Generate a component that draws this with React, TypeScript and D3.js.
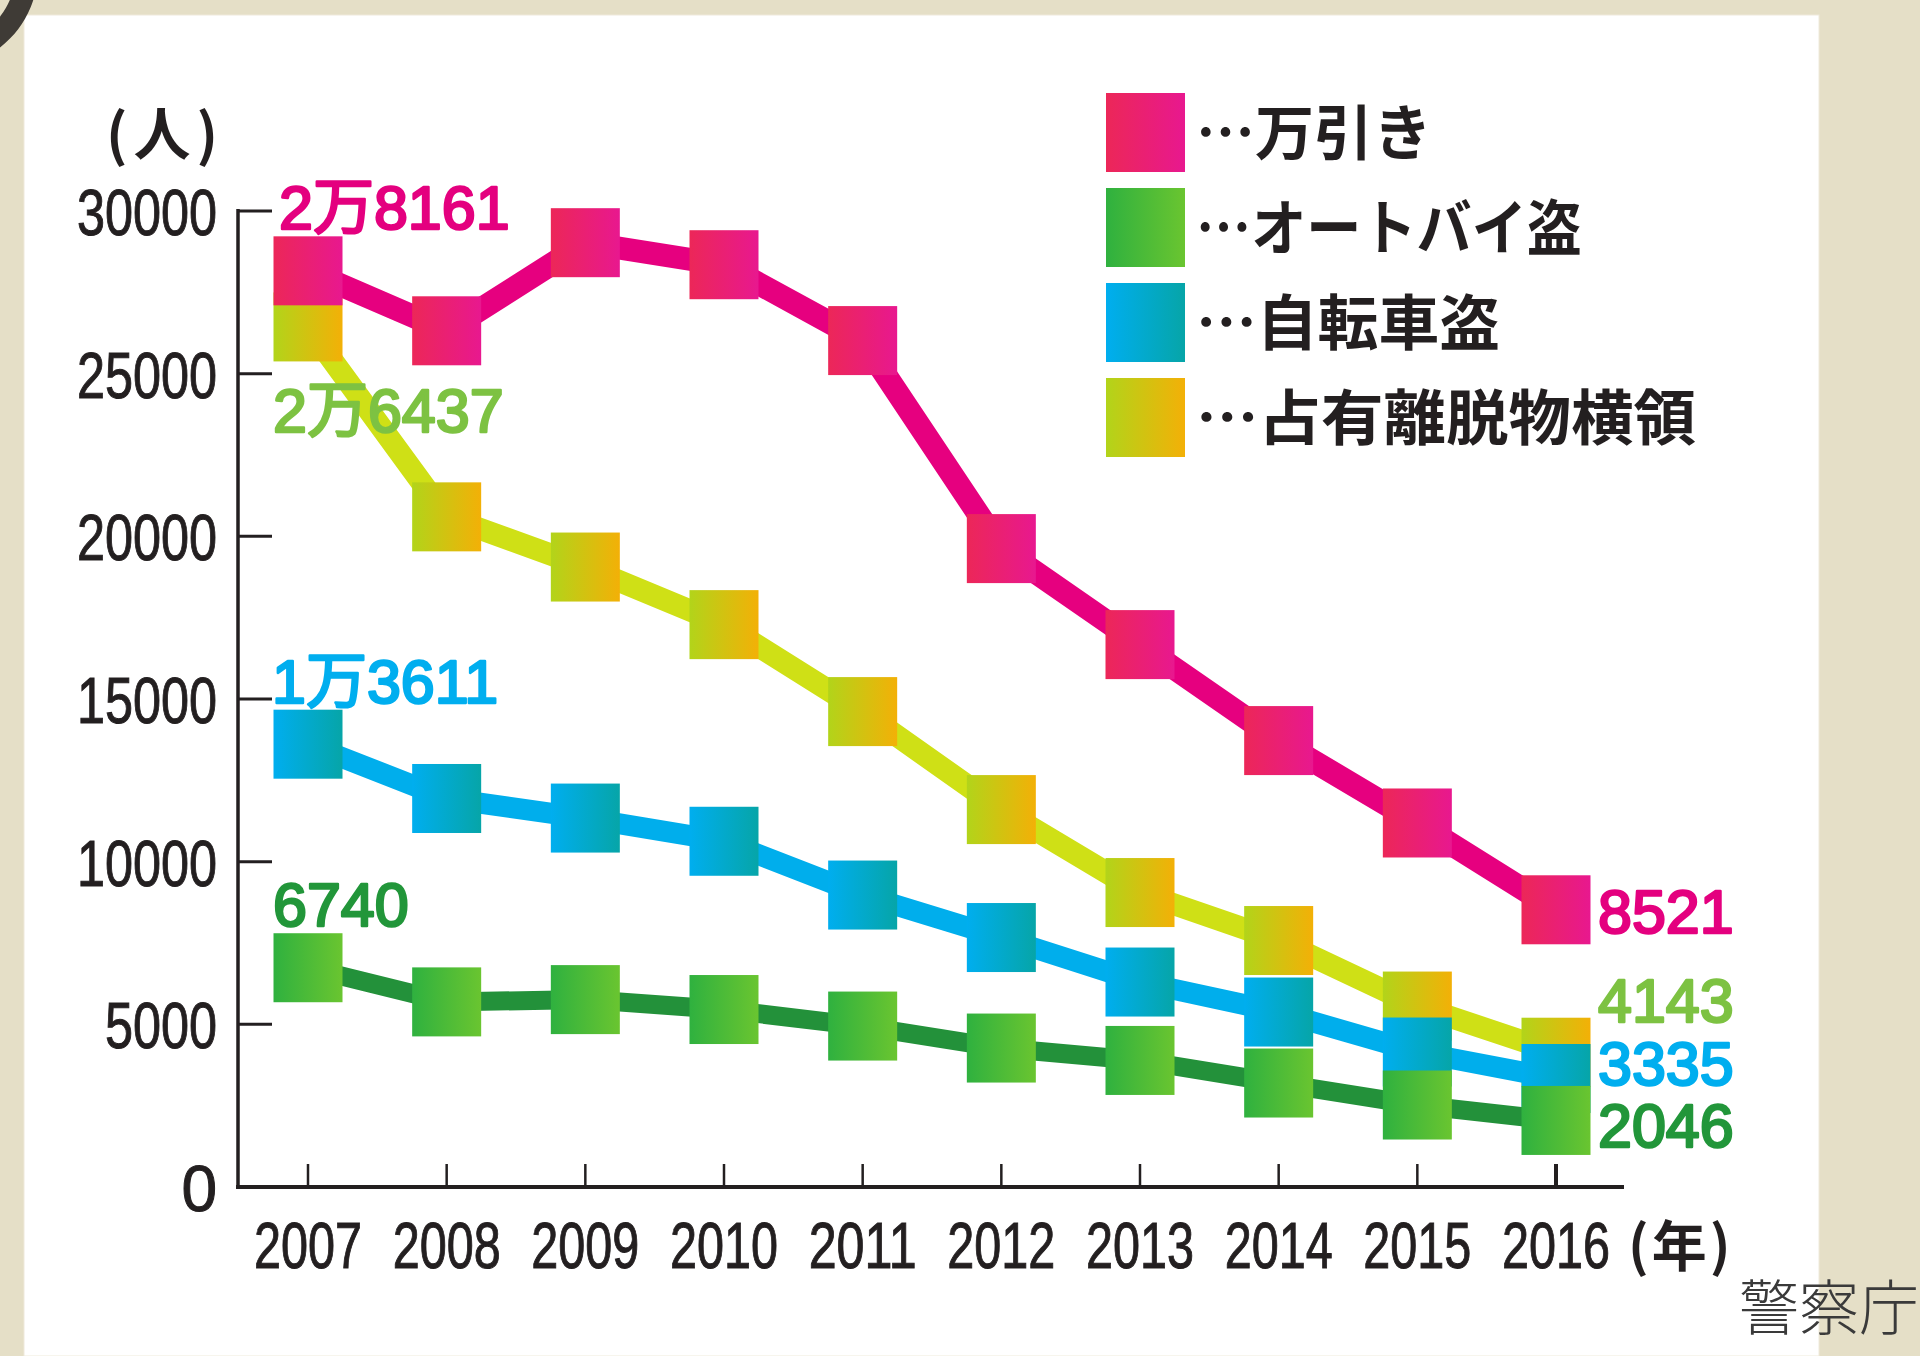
import React from "react";
import * as d3 from "d3";

const years = [2007, 2008, 2009, 2010, 2011, 2012, 2013, 2014, 2015, 2016];
const shoplifting = [28161, 26318, 29026, 28349, 26017, 19623, 16672, 13722, 11189, 8521];
const motorcycleTheft = [6740, 5690, 5760, 5455, 4947, 4271, 3890, 3196, 2520, 2046];
const bicycleTheft = [13611, 11942, 11340, 10627, 8974, 7668, 6300, 5378, 4149, 3335];
const embezzlement = [26437, 20599, 19056, 17286, 14613, 11601, 9051, 7576, 5562, 4143];
const yTicks = [0, 5000, 10000, 15000, 20000, 25000, 30000];
const seriesNames = ["万引き", "オートバイ盗", "自転車盗", "占有離脱物横領"];
const firstLabels = ["2万8161", "6740", "1万3611", "2万6437"];
const lastLabels = ["8521", "2046", "3335", "4143"];

const W = 1920;
const H = 1356;
const x = d3.scaleLinear().domain([2007, 2016]).range([308, 1556]);
const y = d3.scaleLinear().domain([0, 30000]).range([1187, 211]);

const styles = [
  { line: "#e6007f", g0: "#ec2758", g1: "#e8188f", width: 23, text: "#e4007f" },
  { line: "#23913a", g0: "#2fb13f", g1: "#6ac530", width: 19, text: "#22963a" },
  { line: "#00aeec", g0: "#00aeef", g1: "#06a5a8", width: 21, text: "#00aeef" },
  { line: "#cfe016", g0: "#b2d41a", g1: "#f3b007", width: 22, text: "#7dc242" },
];
const seriesData = [shoplifting, motorcycleTheft, bicycleTheft, embezzlement];
// draw order: embezzlement, bicycle, motorcycle, shoplifting
const drawOrder = [3, 2, 1, 0];
const firstLabelPos = [
  { dx: -29, y: 229 },
  { dx: -35, y: 926 },
  { dx: -36, y: 703 },
  { dx: -35, y: 432 },
];
const lastLabelY = [933, 1147, 1085, 1022];
const legendTextLen = [236, 386, 304, 500];

const MS = 69;
const numFont = "'Liberation Sans', Arial, 'Noto Sans CJK JP', sans-serif";
const narrowFont = "'Liberation Sans Narrow', 'Liberation Sans', Arial, sans-serif";
const cjkFont = "'Noto Sans CJK JP', sans-serif";

export default function App() {
  const line = d3
    .line<number>()
    .x((_, i) => x(years[i]))
    .y((d) => y(d));

  return (
    <svg
      width={W}
      height={H}
      viewBox={`0 0 ${W} ${H}`}
      style={{ position: "absolute", left: 0, top: 0, display: "block" }}
    >
      <defs>
        {styles.map((s, i) => (
          <linearGradient key={i} id={`g${i}`} x1="0" y1="0" x2="1" y2="0">
            <stop offset="0" stopColor={s.g0} />
            <stop offset="1" stopColor={s.g1} />
          </linearGradient>
        ))}
        <radialGradient id="ring" cx="-60" cy="-30" r="98" gradientUnits="userSpaceOnUse">
          <stop offset="0.78" stopColor="#d6d0c0" />
          <stop offset="0.92" stopColor="#7a756c" />
          <stop offset="1" stopColor="#3f3b36" />
        </radialGradient>
      </defs>
      <rect x={0} y={0} width={W} height={H} fill="#e5dfc7" />
      <rect x={24} y={15} width={1795} height={H - 15} fill="#ffffff" stroke="#efeadb" strokeWidth={1} />
      {/* top-left decoration */}
      <path
        d={d3.arc()({ innerRadius: 76, outerRadius: 98, startAngle: Math.PI * 0.3, endAngle: Math.PI * 0.95 }) || ""}
        transform="translate(-60,-30)"
        fill="url(#ring)"
      />

      {/* axes */}
      <line x1={238} y1={209} x2={238} y2={1189} stroke="#231f20" strokeWidth={3.5} />
      <line x1={236} y1={1187} x2={1624} y2={1187} stroke="#231f20" strokeWidth={4} />
      {yTicks
        .filter((t) => t > 0)
        .map((t) => (
          <line key={t} x1={238} x2={272} y1={y(t)} y2={y(t)} stroke="#231f20" strokeWidth={3} />
        ))}
      {years.map((yr, i) => (
        <line
          key={yr}
          x1={x(yr)}
          x2={x(yr)}
          y1={1164}
          y2={1187}
          stroke="#231f20"
          strokeWidth={i === years.length - 1 ? 4 : 2.5}
        />
      ))}
      {yTicks.map((t) => {
        const s = String(t);
        return (
          <text
            key={t}
            x={217}
            y={y(t) + 24}
            textAnchor="end"
            fontFamily={narrowFont}
            fontSize={64}
            fill="#231f20"
            stroke="#231f20"
            strokeWidth={1}
            textLength={s.length > 1 ? s.length * 28 : undefined}
            lengthAdjust="spacingAndGlyphs"
          >
            {s}
          </text>
        );
      })}
      {years.map((yr) => (
        <text
          key={yr}
          x={x(yr)}
          y={1268}
          textAnchor="middle"
          fontFamily={narrowFont}
          fontSize={64}
          fill="#231f20"
          stroke="#231f20"
          strokeWidth={1}
          textLength={108}
          lengthAdjust="spacingAndGlyphs"
        >
          {yr}
        </text>
      ))}
      <text x={106} y={155} fontFamily={cjkFont} fontSize={57} fontWeight={700} fill="#231f20" letterSpacing={6}>
        (人)
      </text>
      <text x={1628} y={1266} fontFamily={cjkFont} fontSize={55} fontWeight={700} fill="#231f20" letterSpacing={3}>
        (年)
      </text>

      {/* series */}
      {drawOrder.map((si) => {
        const s = styles[si];
        const data = seriesData[si];
        return (
          <g key={si}>
            <path d={line(data) || ""} fill="none" stroke={s.line} strokeWidth={s.width} strokeLinejoin="miter" />
            {data.map((v, i) => (
              <rect
                key={i}
                x={x(years[i]) - MS / 2}
                y={y(v) - MS / 2}
                width={MS}
                height={MS}
                fill={`url(#g${si})`}
              />
            ))}
          </g>
        );
      })}

      {/* value labels */}
      {seriesData.map((data, si) => (
        <g
          key={si}
          fontFamily={numFont}
          fontSize={61}
          fontWeight={400}
          fill={styles[si].text}
          stroke={styles[si].text}
          strokeWidth={2.5}
          strokeLinejoin="round"
        >
          <text x={x(years[0]) + firstLabelPos[si].dx} y={firstLabelPos[si].y}>
            {firstLabels[si]}
          </text>
          <text x={x(years[years.length - 1]) + 42} y={lastLabelY[si]}>
            {lastLabels[si]}
          </text>
        </g>
      ))}

      {/* legend */}
      {seriesNames.map((name, i) => {
        const top = 93 + i * 95;
        return (
          <g key={name}>
            <rect x={1106} y={top} width={79} height={79} fill={`url(#g${i})`} />
            <text
              x={1196}
              y={top + 40 + 22}
              fontFamily={cjkFont}
              fontSize={60}
              fontWeight={700}
              fill="#231f20"
              textLength={legendTextLen[i]}
              lengthAdjust="spacingAndGlyphs"
            >
              {"…" + name}
            </text>
          </g>
        );
      })}

      <text x={1739} y={1330} fontFamily={cjkFont} fontSize={60} fontWeight={300} fill="#3a3a3a">
        警察庁
      </text>
    </svg>
  );
}
